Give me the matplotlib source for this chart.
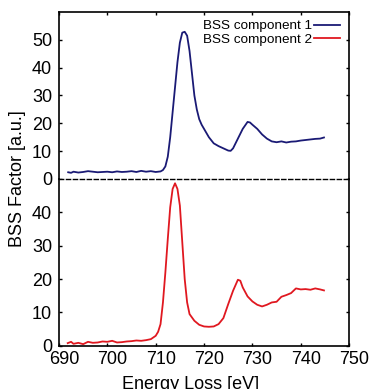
import matplotlib
matplotlib.use("Agg")
import matplotlib.pyplot as plt
from matplotlib.transforms import ScaledTranslation

plt.rcParams['font.family'] = ['Liberation Sans', 'DejaVu Sans']

# Component 1 (upper panel)
energy1 = [691.9, 692.5, 693, 694, 695, 696, 697, 698, 699, 700, 701, 702, 703, 704, 705, 706,
           707, 708, 709, 710, 711, 711.5, 712, 712.5, 713, 713.5, 714, 714.5, 715, 715.5, 716,
           716.5, 717, 717.5, 718, 718.5, 719, 719.5, 720, 721, 722, 723, 724, 725, 725.5, 726,
           727, 728, 729, 729.5, 730, 731, 732, 733, 734, 735, 736, 737, 738, 739, 740, 741,
           742, 743, 744, 744.8]
comp1 = [2.4, 2.2, 2.6, 2.3, 2.5, 2.8, 2.6, 2.4, 2.5, 2.6, 2.4, 2.7, 2.5, 2.6, 2.8, 2.5,
         2.9, 2.6, 2.8, 2.5, 2.7, 3.2, 4.5, 8.0, 15.0, 24.0, 33.0, 42.0, 49.0, 52.6, 52.9,
         51.5, 46.0, 38.0, 30.0, 25.0, 21.5, 19.5, 18.0, 15.0, 12.8, 11.8, 11.0, 10.2, 10.1, 11.0,
         14.5, 18.0, 20.5, 20.3, 19.5, 18.0, 16.0, 14.5, 13.5, 13.2, 13.5, 13.1, 13.4, 13.5, 13.8, 14.0,
         14.2, 14.4, 14.5, 14.9]

# Component 2 (lower panel)
energy2 = [691.8, 692.5, 693, 694, 695, 696, 697, 698, 699, 700, 701, 702, 703, 704, 705, 706,
           707, 708, 709, 710, 710.5, 711, 711.5, 712, 712.5, 713, 713.5, 714, 714.5, 715, 715.5,
           716, 716.5, 717, 718, 719, 720, 721, 722, 723, 724, 725, 726, 727, 727.5, 728, 729,
           730, 731, 732, 733, 734, 735, 736, 737, 738, 739, 740, 741, 742, 743, 744, 744.8]
comp2 = [0.8, 1.2, 0.6, 0.9, 0.5, 1.2, 0.9, 1.0, 1.3, 1.2, 1.5, 1.0, 1.1, 1.3, 1.4, 1.6,
         1.5, 1.7, 2.0, 3.0, 4.2, 6.5, 13.0, 22.0, 32.0, 41.5, 47.0, 48.7, 47.0, 42.0, 31.0,
         20.0, 13.0, 9.5, 7.5, 6.3, 5.8, 5.7, 5.8, 6.5, 8.3, 12.5, 16.5, 19.8, 19.5, 17.5, 14.8,
         13.3, 12.3, 11.8, 12.3, 13.0, 13.2, 14.7, 15.2, 15.8, 17.2, 16.9, 17.0, 16.8, 17.2, 16.9, 16.6]

labels = ["BSS component 1", "BSS component 2"]
xticks = [690, 700, 710, 720, 730, 740, 750]
yticks_top = [0, 10, 20, 30, 40, 50]
yticks_bottom = [0, 10, 20, 30, 40]

blue = "#1a1a75"
red = "#e01820"

fig = plt.figure(figsize=(3.71, 3.89), dpi=100)
L, R, B, M, T = 0.159, 0.941, 0.111, 0.540, 0.969
ax1 = fig.add_axes([L, M, R - L, T - M])
ax2 = fig.add_axes([L, B, R - L, M - B], sharex=ax1)

h1, = ax1.plot(energy1, comp1, color=blue, lw=1.3)
h2, = ax2.plot(energy2, comp2, color=red, lw=1.3)

ax1.set_xlim(690, 750)
ax1.set_ylim(0, 60)
ax2.set_ylim(0, 50)
ax1.set_yticks(yticks_top)
ax2.set_yticks(yticks_bottom)
ax2.set_xticks(xticks)

for ax in (ax1, ax2):
    for s in ax.spines.values():
        s.set_linewidth(1.2)
    ax.tick_params(direction='in', length=2.5, width=1.0, labelsize=13,
                   top=True, right=True)
    ax.tick_params(axis='y', pad=5)
    ax.tick_params(axis='x', pad=4)

ax1.spines['bottom'].set_visible(False)
ax1.tick_params(axis='x', bottom=False, labelbottom=False)
ax2.spines['top'].set_linestyle((0, (3, 2)))
ax2.spines['top'].set_linewidth(1.0)
ax2.tick_params(axis='x', top=False)

# x tick labels sit slightly right of their ticks in the reference
shift = ScaledTranslation(0.05, 0, fig.dpi_scale_trans)
for lab in ax2.get_xticklabels():
    lab.set_transform(lab.get_transform() + shift)

leg = ax1.legend([h1, h2], labels, loc='upper right', frameon=False, fontsize=9.7,
                 markerfirst=False, handlelength=1.9, handletextpad=0.2,
                 labelspacing=0.05, borderaxespad=0, borderpad=0,
                 bbox_to_anchor=(340 / 371, 1 - 20 / 389), bbox_transform=fig.transFigure)

fig.text(18 / 371, 0.54, "BSS Factor [a.u.]", rotation=90, ha='center', va='center', fontsize=13)
fig.text(191 / 371, 1 - 376 / 389, "Energy Loss [eV]", ha='center', va='top', fontsize=13)

fig.savefig("out.png", dpi=100)
